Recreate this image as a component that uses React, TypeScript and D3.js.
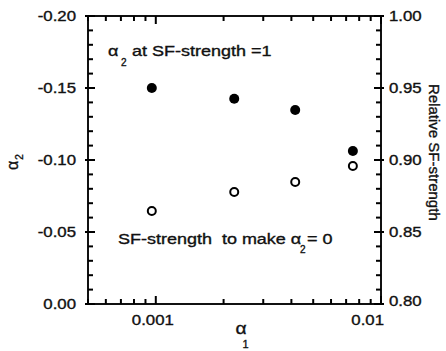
import * as d3 from "d3";

// alpha_1 (log axis) for the four cases
const alpha1 = [0.00096, 0.00223, 0.00416, 0.0075];
// alpha_2 at SF-strength = 1 (left axis, filled)
const alpha2AtSF1 = [-0.15, -0.1425, -0.1347, -0.1063];
// SF-strength needed for alpha_2 = 0 (right axis, open)
const sfToZero = [0.8646, 0.8778, 0.8847, 0.8958];

const leftTicks = [-0.2, -0.15, -0.1, -0.05, 0.0];
const rightTicks = [1.0, 0.95, 0.9, 0.85, 0.8];
const xTickLabels = [0.001, 0.01];

const W = 446;
const H = 351;
const m = { left: 88, right: 381, top: 16, bottom: 304 };
const FONT = "'Liberation Sans', Arial, Helvetica, sans-serif";
const SX = 1.2; // the scan is stretched sideways
const INK = "#111";

export default function App() {
  const x = d3.scaleLog().domain([0.0005, 0.01]).range([m.left, m.right]);
  const yL = d3.scaleLinear().domain([0, -0.2]).range([m.bottom, m.top]);
  const yR = d3.scaleLinear().domain([0.8, 1.0]).range([m.bottom, m.top]);

  const xt = x.ticks();
  const isMajorX = (v: number) => Math.abs(Math.log10(v) - Math.round(Math.log10(v))) < 1e-6;
  const yMinor = d3.range(0, 21).map((i) => -i * 0.01);

  const tickLines: { x1: number; x2: number; y1: number; y2: number }[] = [];
  yMinor.forEach((v, i) => {
    const y = yL(v);
    const major = i % 5 === 0;
    tickLines.push({ x1: m.left - (major ? 3 : 0), x2: m.left + (major ? 7 : 5), y1: y, y2: y });
    tickLines.push({ x1: m.right + (major ? 3 : 0), x2: m.right - (major ? 7 : 5), y1: y, y2: y });
  });
  xt.forEach((v) => {
    const xx = x(v);
    const len = isMajorX(v) ? 8 : 5;
    tickLines.push({ x1: xx, x2: xx, y1: m.bottom, y2: m.bottom - len });
    tickLines.push({ x1: xx, x2: xx, y1: m.top, y2: m.top + len });
  });

  const txt = (
    key: string,
    tx: number,
    ty: number,
    s: string,
    size: number,
    anchor: "start" | "middle" | "end" = "start"
  ) => (
    <g key={key} transform={`translate(${tx},${ty}) scale(${SX},1)`}>
      <text fontSize={size} textAnchor={anchor} style={{ whiteSpace: "pre" }}>
        {s}
      </text>
    </g>
  );

  return (
    <svg
      width={W}
      height={H}
      style={{ position: "absolute", left: 0, top: 0, background: "#fff" }}
      fontFamily={FONT}
    >
      {/* frame */}
      <rect
        x={m.left}
        y={m.top}
        width={m.right - m.left}
        height={m.bottom - m.top}
        fill="none"
        stroke={INK}
        strokeWidth={2}
      />

      {/* ticks on all four sides */}
      <g stroke="#000" strokeWidth={2}>
        {tickLines.map((t, i) => (
          <line key={"t" + i} x1={t.x1} x2={t.x2} y1={t.y1} y2={t.y2} />
        ))}
      </g>

      <g fill={INK} stroke={INK} strokeWidth={0.35}>
        {/* tick labels */}
        {leftTicks.map((v, i) => txt("lt" + i, 76, yL(v) + 5, v.toFixed(2), 14, "end"))}
        {rightTicks.map((v, i) =>
          txt("rt" + i, 389, yR(v) + 5 - (i === rightTicks.length - 1 ? 3 : 0), v.toFixed(2), 14, "start")
        )}
        {xTickLabels.map((v, i) =>
          i === xTickLabels.length - 1
            ? txt("xl" + i, x(v) + 3, 325, String(v), 14, "end")
            : txt("xl" + i, x(v) - 3, 325, String(v), 14, "middle")
        )}

        {/* axis titles */}
        {txt("xa", 241, 334, "α", 16, "middle")}
        <text x={245.5} y={348} fontSize={11} textAnchor="middle">1</text>

        <g transform="translate(18,170) rotate(-90)">
          <text fontSize={16}>
            α<tspan dx={1} dy={5} fontSize={10}>2</tspan>
          </text>
        </g>
        <g transform="translate(429,84) rotate(90)">
          <text fontSize={15}>Relative SF-strength</text>
        </g>

        {/* annotations */}
        {txt("a1", 108, 56, "α", 15)}
        <text x={121} y={66} fontSize={10}>2</text>
        {txt("a2", 132, 56, "at SF-strength =1", 15)}

        {txt("b1", 118, 244, "SF-strength  to make α", 15)}
        <text x={300} y={253} fontSize={10}>2</text>
        {txt("b2", 307, 244, "= 0", 15)}
      </g>

      {/* markers */}
      {alpha1.map((v, i) => (
        <circle key={"f" + i} cx={x(v)} cy={yL(alpha2AtSF1[i])} r={5} fill="#000" />
      ))}
      {alpha1.map((v, i) => (
        <circle
          key={"o" + i}
          cx={x(v)}
          cy={yR(sfToZero[i])}
          r={4}
          fill="none"
          stroke="#000"
          strokeWidth={2}
        />
      ))}
    </svg>
  );
}
